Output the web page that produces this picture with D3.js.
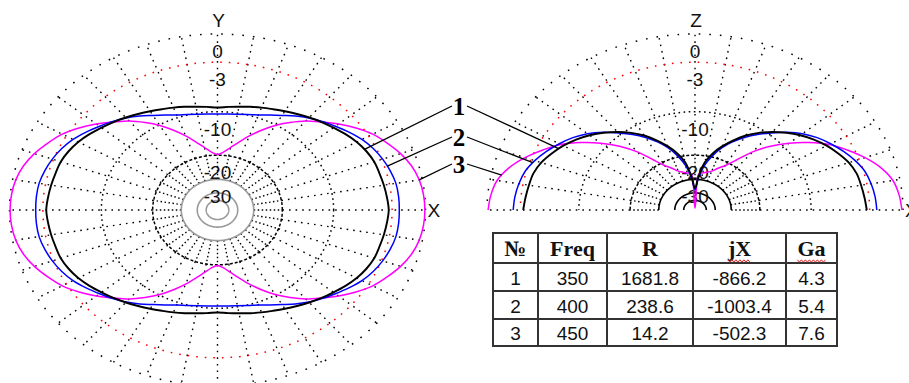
<!DOCTYPE html>
<html>
<head>
<meta charset="utf-8">
<script src="https://cdn.jsdelivr.net/npm/d3@7"></script>
<style>
  body { margin: 0; background: #fff; }
  svg { display: block; }
</style>
</head>
<body>
<div id="chart"></div>
<script>
// Radiation patterns, dB relative to max,
// one quadrant each (the patterns are symmetric), every 5 degrees
const angles = [0, 5, 10, 15, 20, 25, 30, 35, 40, 45, 50, 55, 60, 65, 70, 75, 80, 85, 90];

// horizontal plane (X-Y), angle from X axis
const azBlack = [-3.34, -3.45, -3.57, -3.70, -3.79, -4.05, -4.42, -4.91, -5.45, -5.95, -6.47, -6.98, -7.45, -7.88, -8.23, -8.57, -8.88, -9.11, -9.29];
const azBlue = [-2.31, -2.31, -2.37, -2.59, -2.89, -3.28, -3.79, -4.46, -5.17, -5.83, -6.54, -7.34, -8.20, -8.91, -9.50, -9.89, -10.17, -10.35, -10.42];
const azMagenta = [-0.05, -0.10, -0.26, -0.59, -1.12, -1.81, -2.55, -3.57, -4.71, -5.95, -7.13, -8.57, -10.11, -11.90, -13.78, -15.73, -17.53, -19.03, -19.77];

// vertical plane, elevation angle from horizon
const elBlack = [-3.28, -3.45, -3.60, -3.74, -4.11, -4.71, -5.38, -6.17, -7.11, -8.18, -9.38, -10.74, -12.28, -14.21, -16.34, -18.82, -22.03, -28.50, -35.83];
const elBlue = [-2.31, -2.41, -2.59, -2.87, -3.41, -4.09, -4.87, -5.71, -6.75, -8.07, -9.59, -11.09, -12.74, -14.61, -16.79, -19.72, -23.52, -29.43, -37.12];
const elMagenta = [-0.09, -0.26, -0.59, -1.32, -2.39, -3.68, -5.05, -6.92, -9.03, -11.46, -14.45, -18.17, -21.13, -22.99, -24.86, -25.83, -26.46, -27.20, -80];

const ringLevels = [0, -3, -10, -20, -30, -40, -50];
const ringLabels = ['0', '-3', '-10', '-20', '-30'];

// curve numbers and where their pointer lines touch the curves (degrees)
const curveNames = ['1', '2', '3'];
const leaderAz = [26, 17, 10];
const leaderEl = [28, 19, 12];

// table
const tableHead = ['№', 'Freq', 'R', 'jX', 'Ga'];
const tableFreq = [350, 400, 450];
const tableR = [1681.8, 238.6, 14.2];
const tableJX = [-866.2, -1003.4, -502.3];
const tableGa = [4.3, 5.4, 7.6];

const W = 909, H = 383;
const sans = '"Liberation Sans", Arial, sans-serif';
const serif = '"Liberation Serif", "Times New Roman", serif';
const colors = ['#000000', '#0000ff', '#ff00ff'];

const svg = d3.select('#chart').append('svg')
  .attr('width', W)
  .attr('height', H);

// ARRL log scale: radius drops by 0.89 every 2 dB -> power law of linear power
const gainExp = -5 * Math.log(0.89) / Math.LN10;
const xScale = d3.scalePow().exponent(gainExp).domain([0, 1]).range([0, 208]);
const yScale = d3.scalePow().exponent(gainExp).domain([0, 1]).range([0, 176]);
const toPower = (db) => Math.pow(10, db / 10);
const rad = (d) => (d * Math.PI) / 180;

function polar(p, deg, db) {
  return [
    p.cx + xScale(toPower(db)) * Math.cos(rad(deg)),
    p.cy - yScale(toPower(db)) * Math.sin(rad(deg))
  ];
}

// mirror a quadrant into a half or full pattern
function expand(values, span) {
  const pts = new Map();
  angles.forEach((a, i) => {
    pts.set(a, values[i]);
    pts.set(180 - a, values[i]);
    if (span === 360) {
      pts.set(180 + a, values[i]);
      pts.set((360 - a) % 360, values[i]);
    }
  });
  return Array.from(pts.entries()).sort((a, b) => a[0] - b[0]);
}

const plots = [
  { cx: 217.5, cy: 210, span: 360, top: 'Y', side: 'X', inner: '#9a9a9a',
    series: [azBlack, azBlue, azMagenta] },
  { cx: 695, cy: 210, span: 180, top: 'Z', side: 'X', inner: '#000000',
    series: [elBlack, elBlue, elMagenta] }
];

const ringStyle = {
  '0': { stroke: '#000', dash: '1.6 9' },
  '-3': { stroke: '#ff0000', dash: '1.6 7' },
  '-10': { stroke: '#000', dash: '1.6 3.5' },
  '-20': { stroke: '#000', dash: '3 2' }
};

// spoke segments: [from dB, to dB, dot pattern]
const spokeBands = [[-30, -20, '1.5 2.5'], [-20, 0, '1.6 5']];

plots.forEach((p) => {
  const g = svg.append('g');

  // spokes every 10 degrees
  const spokeAngles = d3.range(0, p.span === 360 ? 360 : 181, 10);
  spokeBands.forEach(([from, to, dash]) => {
    g.selectAll(null)
      .data(spokeAngles)
      .enter()
      .append('line')
      .attr('x1', (a) => polar(p, a, from)[0])
      .attr('y1', (a) => polar(p, a, from)[1])
      .attr('x2', (a) => polar(p, a, to)[0])
      .attr('y2', (a) => polar(p, a, to)[1])
      .attr('stroke', '#000')
      .attr('stroke-width', 1.4)
      .attr('stroke-dasharray', dash);
  });

  // rings
  const steps = d3.range(0, p.span + 1, 1);
  g.selectAll('path.ring')
    .data(ringLevels)
    .enter()
    .append('path')
    .attr('d', (lv) => d3.line()(steps.map((a) => polar(p, a, lv))) + (p.span === 360 ? 'Z' : ''))
    .attr('fill', 'none')
    .attr('stroke', (lv) => (ringStyle[lv] ? ringStyle[lv].stroke : p.inner))
    .attr('stroke-width', (lv) => (ringStyle[lv] ? 1.5 : 1.6))
    .attr('stroke-dasharray', (lv) => (ringStyle[lv] ? ringStyle[lv].dash : null));

  // ring labels along the vertical axis
  g.selectAll('text.ring')
    .data(ringLabels)
    .enter()
    .append('text')
    .attr('x', p.cx)
    .attr('y', (t) => p.cy - yScale(toPower(+t)) + 24)
    .attr('text-anchor', 'middle')
    .attr('font-family', sans)
    .attr('font-size', 19)
    .attr('fill', '#111')
    .text((t) => t);

  // axis names
  g.append('text')
    .attr('x', p.cx + 1)
    .attr('y', p.cy - yScale(1) - 7)
    .attr('text-anchor', 'middle')
    .attr('font-family', sans)
    .attr('font-size', 19)
    .attr('fill', '#111')
    .text(p.top);
  g.append('text')
    .attr('x', p.cx + xScale(1) + 2)
    .attr('y', p.cy + 7)
    .attr('font-family', sans)
    .attr('font-size', 19)
    .attr('fill', '#111')
    .text(p.side);

  // pattern curves, drawn 3 -> 1 so black is on top
  const line = d3.line()
    .curve(p.span === 360 ? d3.curveCatmullRomClosed.alpha(0.5) : d3.curveCatmullRom.alpha(0.5));
  [2, 1, 0].forEach((k) => {
    const pts = expand(p.series[k], p.span).map(([a, v]) => polar(p, a, v));
    g.append('path')
      .attr('d', line(pts))
      .attr('fill', 'none')
      .attr('stroke', colors[k])
      .attr('stroke-width', k === 0 ? 1.9 : 1.5)
      .attr('stroke-linejoin', 'round');
  });
});

// numbered pointers between the two plots
const labelX = 459;
const labelY = [106, 137, 164];
curveNames.forEach((name, k) => {
  const left = plots[0];
  const right = plots[1];
  const azAt = d3.scaleLinear().domain(angles).range(left.series[k]);
  const elAt = d3.scaleLinear().domain(angles).range(right.series[k]);
  const pL = polar(left, leaderAz[k], azAt(leaderAz[k]));
  const pR = polar(right, 180 - leaderEl[k], elAt(leaderEl[k]));

  svg.append('line')
    .attr('x1', labelX - 7).attr('y1', labelY[k])
    .attr('x2', pL[0]).attr('y2', pL[1])
    .attr('stroke', '#000').attr('stroke-width', 1.3);
  svg.append('line')
    .attr('x1', labelX + 8).attr('y1', labelY[k])
    .attr('x2', pR[0]).attr('y2', pR[1])
    .attr('stroke', '#000').attr('stroke-width', 1.3);
  svg.append('text')
    .attr('x', labelX)
    .attr('y', labelY[k] + 8.5)
    .attr('text-anchor', 'middle')
    .attr('font-family', serif)
    .attr('font-weight', 'bold')
    .attr('font-size', 25)
    .text(name);
});

// result table
const colEdges = [493, 538, 607, 693, 786, 837];
const rowEdges = [233, 263, 291, 319, 346];
const fmt1 = d3.format('.1f');
const rows = tableFreq.map((f, i) => [
  String(i + 1), String(f), fmt1(tableR[i]), fmt1(tableJX[i]).replace('−', '-'), fmt1(tableGa[i])
]);

const tg = svg.append('g');
tg.selectAll('line.v')
  .data(colEdges)
  .enter()
  .append('line')
  .attr('x1', (x) => x).attr('x2', (x) => x)
  .attr('y1', rowEdges[0] - 1).attr('y2', rowEdges[rowEdges.length - 1] + 1)
  .attr('stroke', '#333').attr('stroke-width', 2);
tg.selectAll('line.h')
  .data(rowEdges)
  .enter()
  .append('line')
  .attr('y1', (y) => y).attr('y2', (y) => y)
  .attr('x1', colEdges[0] - 1).attr('x2', colEdges[colEdges.length - 1] + 1)
  .attr('stroke', '#333').attr('stroke-width', 2);

const colMid = (j) => (colEdges[j] + colEdges[j + 1]) / 2;
const rowMid = (i) => (rowEdges[i] + rowEdges[i + 1]) / 2;

const heads = tg.selectAll('text.head')
  .data(tableHead)
  .enter()
  .append('text')
  .attr('x', (d, j) => colMid(j))
  .attr('y', rowMid(0) + 8)
  .attr('text-anchor', 'middle')
  .attr('font-family', serif)
  .attr('font-weight', 'bold')
  .attr('font-size', 22)
  .attr('fill', '#111')
  .text((d) => d);

rows.forEach((r, i) => {
  tg.selectAll('text.row' + i)
    .data(r)
    .enter()
    .append('text')
    .attr('x', (d, j) => colMid(j))
    .attr('y', rowMid(i + 1) + 7.5)
    .attr('text-anchor', 'middle')
    .attr('font-family', sans)
    .attr('font-size', 19)
    .attr('fill', '#111')
    .text((d) => d);
});

// spell-check squiggles under "jX" and "Ga"
heads.filter((d) => d === 'jX' || d === 'Ga').each(function (d) {
  const j = tableHead.indexOf(d);
  const w = this.getComputedTextLength();
  const xs = d3.range(colMid(j) - w / 2, colMid(j) + w / 2, 2);
  tg.append('path')
    .attr('d', d3.line()(xs.map((x, n) => [x, rowEdges[1] - 2 + (n % 2 ? 1.2 : -1.2)])))
    .attr('fill', 'none')
    .attr('stroke', '#e02020')
    .attr('stroke-width', 1);
});
</script>
</body>
</html>
